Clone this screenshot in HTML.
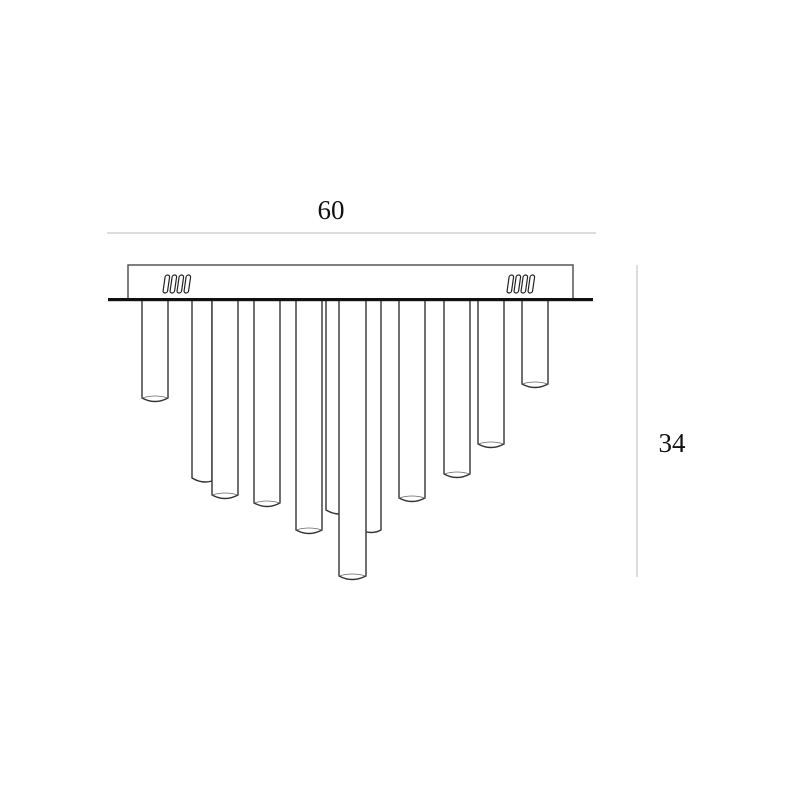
<!DOCTYPE html>
<html><head><style>body{margin:0;background:#fff}svg{display:block}</style></head><body>
<svg width="800" height="800" viewBox="0 0 800 800" xmlns="http://www.w3.org/2000/svg">
<rect width="800" height="800" fill="#fff"/>
<line x1="107" y1="233" x2="596" y2="233" stroke="#bbb" stroke-width="1"/>
<text x="331" y="219" font-family="Liberation Serif, serif" font-size="27" text-anchor="middle" fill="#111">60</text>
<line x1="637" y1="265" x2="637" y2="577" stroke="#bbb" stroke-width="1"/>
<text x="672" y="452" font-family="Liberation Serif, serif" font-size="27" text-anchor="middle" fill="#111">34</text>
<rect x="128" y="265" width="445" height="34" fill="#fff" stroke="#555" stroke-width="1.5"/>
<g fill="none" stroke="#222" stroke-width="1.2">
<rect x="164" y="275" width="4.5" height="18" rx="2.2" transform="skewX(-8) translate(40 0)"/>
<rect x="171" y="275" width="4.5" height="18" rx="2.2" transform="skewX(-8) translate(40 0)"/>
<rect x="178" y="275" width="4.5" height="18" rx="2.2" transform="skewX(-8) translate(40 0)"/>
<rect x="185" y="275" width="4.5" height="18" rx="2.2" transform="skewX(-8) translate(40 0)"/>
<rect x="508" y="275" width="4.5" height="18" rx="2.2" transform="skewX(-8) translate(40 0)"/>
<rect x="515" y="275" width="4.5" height="18" rx="2.2" transform="skewX(-8) translate(40 0)"/>
<rect x="522" y="275" width="4.5" height="18" rx="2.2" transform="skewX(-8) translate(40 0)"/>
<rect x="529" y="275" width="4.5" height="18" rx="2.2" transform="skewX(-8) translate(40 0)"/>
</g>
<g fill="#fff" stroke="#333" stroke-width="1.4">
<path d="M192 301 V478 Q202 484 212 481 V301"/>
<path d="M326 301 V510 Q336 516 346 513 V301"/>
<path d="M360 301 V530 Q372 535 381 530 V301"/>
<path d="M142 301 V398 Q155 405 168 398 V301"/>
<path d="M212 301 V495 Q225 502 238 495 V301"/>
<path d="M254 301 V503 Q267 510 280 503 V301"/>
<path d="M296 301 V530 Q309 537 322 530 V301"/>
<path d="M339 301 V576 Q352 583 366 576 V301"/>
<path d="M399 301 V498 Q412 505 425 498 V301"/>
<path d="M444 301 V474 Q457 481 470 474 V301"/>
<path d="M478 301 V444 Q491 451 504 444 V301"/>
<path d="M522 301 V384 Q535 391 548 384 V301"/>
</g>
<g fill="none" stroke="#666" stroke-width="0.8">
<path d="M142 398 Q155 394 168 398"/><path d="M212 495 Q225 491 238 495"/><path d="M254 503 Q267 499 280 503"/>
<path d="M296 530 Q309 526 322 530"/><path d="M339 576 Q352 572 366 576"/><path d="M399 498 Q412 494 425 498"/>
<path d="M444 474 Q457 470 470 474"/><path d="M478 444 Q491 440 504 444"/><path d="M522 384 Q535 380 548 384"/>
</g>
<rect x="108" y="298" width="485" height="3.2" fill="#111"/>
</svg>
</body></html>
